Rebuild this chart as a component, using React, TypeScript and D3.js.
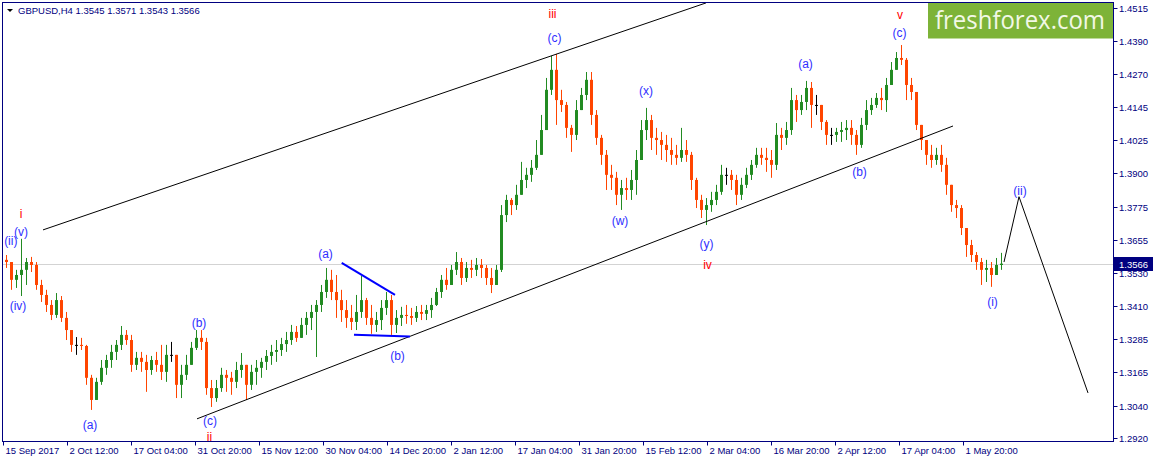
import React, { useEffect } from 'react'
import * as d3 from 'd3'

// GBPUSD H4, aggregated 5 bars per candle
const barsPerCandle = 5
const firstOpen = 1.358

const highs = [
  1.3598, 1.3572, 1.3543, 1.3658, 1.3587, 1.3591, 1.3572, 1.3506, 1.3469, 1.3431,
  1.3457, 1.3446, 1.3387, 1.3302, 1.3294, 1.3291, 1.3265, 1.3154, 1.3143, 1.3209,
  1.3228, 1.3265, 1.3283, 1.3335, 1.332, 1.3302, 1.3239, 1.3239, 1.3228, 1.3224,
  1.3239, 1.3265, 1.3265, 1.3276, 1.3228, 1.3191, 1.3228, 1.3276, 1.332, 1.332,
  1.3291, 1.3135, 1.3135, 1.318, 1.3172, 1.3165, 1.3202, 1.3235, 1.3172, 1.3191,
  1.3209, 1.3217, 1.3246, 1.3265, 1.3283, 1.3291, 1.3313, 1.3339, 1.3335, 1.3365,
  1.3387, 1.3413, 1.3431, 1.3487, 1.355, 1.3543, 1.3524, 1.3469, 1.3431, 1.3413,
  1.345, 1.352, 1.3439, 1.3413, 1.3387, 1.3431, 1.3461, 1.345, 1.3394, 1.3406,
  1.3413, 1.3402, 1.3409, 1.3413, 1.3413, 1.3439, 1.3476, 1.3524, 1.355, 1.3561,
  1.3609, 1.3587, 1.3572, 1.358, 1.3587, 1.3583, 1.3561, 1.355, 1.3561, 1.3783,
  1.3821, 1.3809, 1.3858, 1.3943, 1.3921, 1.395, 1.4024, 1.4117, 1.4254, 1.4336,
  1.4343, 1.421, 1.4165, 1.408, 1.4172, 1.4217, 1.4276, 1.4276, 1.4135, 1.4043,
  1.3987, 1.3932, 1.3906, 1.3876, 1.3884, 1.3913, 1.3987, 1.4098, 1.4143, 1.4117,
  1.4069, 1.4054, 1.4043, 1.4032, 1.4006, 1.4069, 1.4024, 1.398, 1.3884, 1.3821,
  1.3809, 1.3832, 1.3858, 1.3932, 1.3921, 1.3913, 1.3895, 1.3884, 1.3921, 1.395,
  1.3995, 1.3995, 1.3995, 1.3987, 1.4087, 1.4069, 1.4091, 1.4217, 1.4191, 1.4191,
  1.4243, 1.4239, 1.4191, 1.4154, 1.4098, 1.4069, 1.4069, 1.4091, 1.4098, 1.4098,
  1.4061, 1.4106, 1.4172, 1.418, 1.4198, 1.4217, 1.4254, 1.4313, 1.435, 1.4376,
  1.4328, 1.4254, 1.4202, 1.408, 1.4024, 1.4006, 1.3995, 1.4006, 1.3958, 1.3858,
  1.3802, 1.3783, 1.3698, 1.3654, 1.3609, 1.3587, 1.358, 1.3572, 1.3587, 1.3606,
]

const lows = [
  1.355, 1.3469, 1.3476, 1.3446, 1.3487, 1.3535, 1.3469, 1.3424, 1.3387, 1.3357,
  1.3365, 1.335, 1.3283, 1.3239, 1.3228, 1.3246, 1.3117, 1.3024, 1.3068, 1.3117,
  1.3154, 1.318, 1.3209, 1.3246, 1.3265, 1.3165, 1.3172, 1.3165, 1.3091, 1.3154,
  1.3165, 1.3135, 1.3128, 1.3202, 1.3068, 1.3068, 1.3135, 1.3191, 1.3246, 1.3246,
  1.308, 1.3035, 1.3054, 1.3091, 1.3091, 1.308, 1.3105, 1.3143, 1.3061, 1.3098,
  1.3117, 1.3143, 1.3172, 1.3191, 1.3202, 1.3224, 1.3239, 1.3265, 1.3276, 1.3291,
  1.3302, 1.332, 1.322, 1.3387, 1.3439, 1.3431, 1.3365, 1.335, 1.3328, 1.332,
  1.332, 1.3365, 1.3339, 1.3306, 1.3313, 1.332, 1.3376, 1.3302, 1.3309, 1.3335,
  1.3343, 1.3339, 1.335, 1.3357, 1.3357, 1.3365, 1.3409, 1.3439, 1.3469, 1.3487,
  1.3524, 1.3487, 1.3498, 1.3513, 1.352, 1.3513, 1.3487, 1.3457, 1.3487, 1.3535,
  1.372, 1.3746, 1.3765, 1.3821, 1.3846, 1.3869, 1.3913, 1.3969, 1.408, 1.4191,
  1.408, 1.4128, 1.4032, 1.398, 1.4024, 1.4135, 1.4172, 1.408, 1.4006, 1.3932,
  1.3839, 1.3839, 1.3783, 1.3765, 1.3802, 1.3802, 1.3821, 1.395, 1.4024, 1.3987,
  1.3969, 1.395, 1.3943, 1.3932, 1.3932, 1.3943, 1.3943, 1.3839, 1.3772, 1.3735,
  1.3709, 1.3758, 1.3783, 1.3821, 1.3858, 1.3839, 1.3783, 1.3802, 1.3846, 1.3876,
  1.3921, 1.3932, 1.3906, 1.3884, 1.3913, 1.3987, 1.4006, 1.4043, 1.4091, 1.4117,
  1.4135, 1.4069, 1.4117, 1.4061, 1.4006, 1.4006, 1.4017, 1.4017, 1.4024, 1.4006,
  1.3969, 1.3995, 1.4061, 1.4117, 1.4143, 1.4135, 1.4128, 1.4228, 1.4291, 1.4302,
  1.4172, 1.4172, 1.4061, 1.3987, 1.3932, 1.3921, 1.3932, 1.3906, 1.3821, 1.3758,
  1.3735, 1.3672, 1.3591, 1.3572, 1.3543, 1.3487, 1.3498, 1.348, 1.3524, 1.3543,
]

const closes = [
  1.3572, 1.3506, 1.3524, 1.3543, 1.3572, 1.3561, 1.3487, 1.345, 1.3413, 1.3376,
  1.3431, 1.3365, 1.332, 1.3265, 1.3265, 1.3261, 1.3143, 1.3061, 1.3128, 1.318,
  1.3209, 1.3239, 1.3265, 1.3302, 1.3283, 1.3191, 1.3217, 1.3202, 1.3172, 1.3209,
  1.3191, 1.3165, 1.3228, 1.3228, 1.3117, 1.3154, 1.3191, 1.3254, 1.3291, 1.3276,
  1.3105, 1.3068, 1.3105, 1.3154, 1.3143, 1.3128, 1.3172, 1.3191, 1.3117, 1.3165,
  1.318, 1.3202, 1.3224, 1.3239, 1.3246, 1.3268, 1.3283, 1.3313, 1.3291, 1.3339,
  1.3365, 1.3387, 1.3413, 1.3461, 1.3506, 1.3461, 1.3431, 1.3394, 1.3365, 1.335,
  1.3387, 1.3431, 1.3365, 1.3339, 1.3357, 1.3402, 1.3431, 1.3339, 1.3365, 1.3376,
  1.3372, 1.3365, 1.3387, 1.338, 1.3394, 1.3413, 1.3461, 1.3506, 1.3487, 1.3543,
  1.3572, 1.3513, 1.355, 1.3543, 1.3561, 1.355, 1.3513, 1.3487, 1.3543, 1.3746,
  1.3802, 1.3783, 1.3821, 1.3876, 1.3895, 1.3921, 1.3969, 1.4061, 1.421, 1.4284,
  1.4172, 1.4154, 1.4069, 1.4043, 1.4135, 1.4191, 1.4247, 1.4117, 1.4032, 1.3969,
  1.3895, 1.3884, 1.3821, 1.3846, 1.3839, 1.3876, 1.395, 1.4061, 1.4098, 1.4032,
  1.4024, 1.4006, 1.3987, 1.3969, 1.3958, 1.3987, 1.3969, 1.3876, 1.3802, 1.3765,
  1.3783, 1.3802, 1.3832, 1.3895, 1.3895, 1.3876, 1.3821, 1.3858, 1.3895, 1.3932,
  1.3969, 1.3958, 1.395, 1.3932, 1.4043, 1.4032, 1.4061, 1.4172, 1.4135, 1.4165,
  1.4217, 1.4154, 1.4154, 1.4091, 1.4043, 1.4043, 1.4054, 1.4061, 1.4069, 1.4043,
  1.4006, 1.408, 1.4135, 1.4154, 1.418, 1.4172, 1.4228, 1.4284, 1.4328, 1.4321,
  1.4228, 1.4202, 1.408, 1.4024, 1.3969, 1.395, 1.3969, 1.3932, 1.3858, 1.3783,
  1.3772, 1.3698, 1.3635, 1.3598, 1.3572, 1.3543, 1.355, 1.3524, 1.3561, 1.3566,
]

const priceTicks = [
  1.4515, 1.439, 1.427, 1.4145, 1.4025, 1.39, 1.3775, 1.3655, 1.353, 1.341,
  1.3285, 1.3165, 1.304, 1.292,
]
const timeTickEvery = 64 // H4 bars between time labels
const timeLabels = [
  '15 Sep 2017', '2 Oct 12:00', '17 Oct 04:00', '31 Oct 20:00', '15 Nov 12:00',
  '30 Nov 04:00', '14 Dec 20:00', '2 Jan 12:00', '17 Jan 04:00', '31 Jan 20:00',
  '15 Feb 12:00', '2 Mar 04:00', '16 Mar 20:00', '2 Apr 12:00', '17 Apr 04:00',
  '1 May 20:00',
]

const lastPrice = 1.3566
const title = 'GBPUSD,H4  1.3545 1.3571 1.3543 1.3566'

// trend lines: [barIndex, price] pairs
const upperChannel: [number, number][] = [[39.7, 1.3691], [702.7, 1.4532]]
const lowerChannel: [number, number][] = [[193.7, 1.2991], [949.7, 1.4076]]
const forecast: [number, number][] = [[1000.7, 1.3572], [1015.7, 1.3814], [1084.7, 1.3087]]
const blueUpper: [number, number][] = [[338.4, 1.3569], [391.7, 1.345]]
const blueLower: [number, number][] = [[350.7, 1.3303], [406.7, 1.3296]]

// wave labels: text, barIndex, price (baseline), colour kind
const waveLabels: [string, number, number, 'b' | 'r'][] = [
  ['(ii)', 7.5, 1.3635, 'b'],
  ['i', 17.7, 1.3735, 'r'],
  ['(v)', 17.7, 1.3669, 'b'],
  ['(iv)', 14.7, 1.3394, 'b'],
  ['(a)', 86.7, 1.2954, 'b'],
  ['(b)', 195.7, 1.3331, 'b'],
  ['(c)', 206.7, 1.2968, 'b'],
  ['ii', 206.2, 1.2909, 'r'],
  ['(a)', 322.2, 1.3587, 'b'],
  ['(b)', 394.2, 1.3209, 'b'],
  ['iii', 549.2, 1.4476, 'r'],
  ['(c)', 551.2, 1.4387, 'b'],
  ['(w)', 616.7, 1.3709, 'b'],
  ['(x)', 642.7, 1.4191, 'b'],
  ['(y)', 703.2, 1.3624, 'b'],
  ['iv', 704.2, 1.3546, 'r'],
  ['(a)', 802.2, 1.4291, 'b'],
  ['(b)', 856.2, 1.3891, 'b'],
  ['v', 896.7, 1.4473, 'r'],
  ['(c)', 896.2, 1.4406, 'b'],
  ['(ii)', 1016.7, 1.3821, 'b'],
  ['(i)', 989.2, 1.3409, 'b'],
]

const W = 1155
const H = 462
const plot = { left: 2.5, right: 1113.5, top: 2.5, bottom: 441.5 }
const navy = '#000080'
const up = '#228b22'
const down = '#ff4500'
const font = '"Liberation Sans", Arial, sans-serif'

const App = () => {
  useEffect(() => {
    document.body.style.margin = '0'
  }, [])

  const x = d3.scaleLinear().domain([0, 1111]).range([3.3, 1114.3])
  const y = d3.scaleLinear().domain([1.4515, 1.292]).range([7.5, 438])

  const candles = closes.map((c, i) => {
    const o = i === 0 ? firstOpen : closes[i - 1]
    return {
      bar: i * barsPerCandle + barsPerCandle / 2,
      o,
      c,
      h: Math.max(highs[i], o, c),
      l: Math.min(lows[i], o, c),
    }
  })

  const line = d3
    .line<[number, number]>()
    .x((d) => x(d[0]))
    .y((d) => y(d[1]))

  return (
    <svg width={W} height={H} style={{ display: 'block', background: '#fff' }}>
      <defs>
        <clipPath id="plot">
          <rect x={plot.left} y={plot.top} width={plot.right - plot.left} height={plot.bottom - plot.top} />
        </clipPath>
      </defs>

      <g clipPath="url(#plot)">
        {/* current price line */}
        <line x1={plot.left} x2={plot.right} y1={Math.round(y(lastPrice)) + 0.5} y2={Math.round(y(lastPrice)) + 0.5} stroke="#d3d3d3" />

        {candles.map((d, i) => {
          const cx = Math.round(x(d.bar)) + 0.5
          const col = d.c > d.o ? up : d.c < d.o ? down : '#000'
          const top = y(Math.max(d.o, d.c))
          const bot = y(Math.min(d.o, d.c))
          return (
            <g key={i}>
              <line x1={cx} x2={cx} y1={y(d.h)} y2={y(d.l)} stroke={col} strokeWidth={1} />
              <rect x={cx - 1.5} y={top} width={3} height={Math.max(1, bot - top)} fill={col} />
            </g>
          )
        })}

        <path d={line(upperChannel) ?? ''} stroke="#000" fill="none" strokeWidth={1} />
        <path d={line(lowerChannel) ?? ''} stroke="#000" fill="none" strokeWidth={1} />
        <path d={line(forecast) ?? ''} stroke="#000" fill="none" strokeWidth={1} />
        <path d={line(blueUpper) ?? ''} stroke="#0000ff" fill="none" strokeWidth={2} />
        <path d={line(blueLower) ?? ''} stroke="#0000ff" fill="none" strokeWidth={2} />

        {waveLabels.map(([t, b, p, k], i) => (
          <text
            key={i}
            x={x(b)}
            y={y(p)}
            textAnchor="middle"
            fontFamily={font}
            fontSize={12}
            fill={k === 'r' ? '#ff0000' : '#2f2fff'}
          >
            {t}
          </text>
        ))}
      </g>

      {/* watermark */}
      <rect x={928} y={plot.top} width={plot.right - 928} height={36} fill="#7db338" />
      <text x={1020} y={29} textAnchor="middle" fontFamily='"Open Sans", "Noto Sans", sans-serif' fontSize={25} fill="#f2f8e6" textLength={170} lengthAdjust="spacingAndGlyphs">
        freshforex.com
      </text>

      {/* frame */}
      <rect x={plot.left} y={plot.top} width={plot.right - plot.left} height={plot.bottom - plot.top} fill="none" stroke={navy} />

      {/* title */}
      <path d="M7,9 L13,9 L10,12 Z" fill="#000" />
      <text x={18} y={14} fontFamily={font} fontSize={9.5} fill={navy}>
        {title}
      </text>

      {/* price axis */}
      {priceTicks.map((p) => {
        const py = Math.round(y(p)) + 0.5
        return (
          <g key={p}>
            <line x1={plot.right} x2={plot.right + 4} y1={py} y2={py} stroke={navy} />
            <text x={1119} y={py + 3.5} fontFamily={font} fontSize={9.5} fill={navy}>
              {p.toFixed(4)}
            </text>
          </g>
        )
      })}
      <rect x={1114} y={Math.round(y(lastPrice)) - 7} width={39} height={14} fill={navy} />
      <text x={1119} y={Math.round(y(lastPrice)) + 4} fontFamily={font} fontSize={9.5} fill="#fff">
        {lastPrice.toFixed(4)}
      </text>

      {/* time axis */}
      {timeLabels.map((t, i) => {
        const tx = Math.round(x(i * timeTickEvery)) + 0.5
        return (
          <g key={t}>
            <line x1={tx} x2={tx} y1={plot.bottom} y2={plot.bottom + 4} stroke={navy} />
            <text x={tx + 2} y={454} fontFamily={font} fontSize={9.5} fill={navy}>
              {t}
            </text>
          </g>
        )
      })}
    </svg>
  )
}

export default App
